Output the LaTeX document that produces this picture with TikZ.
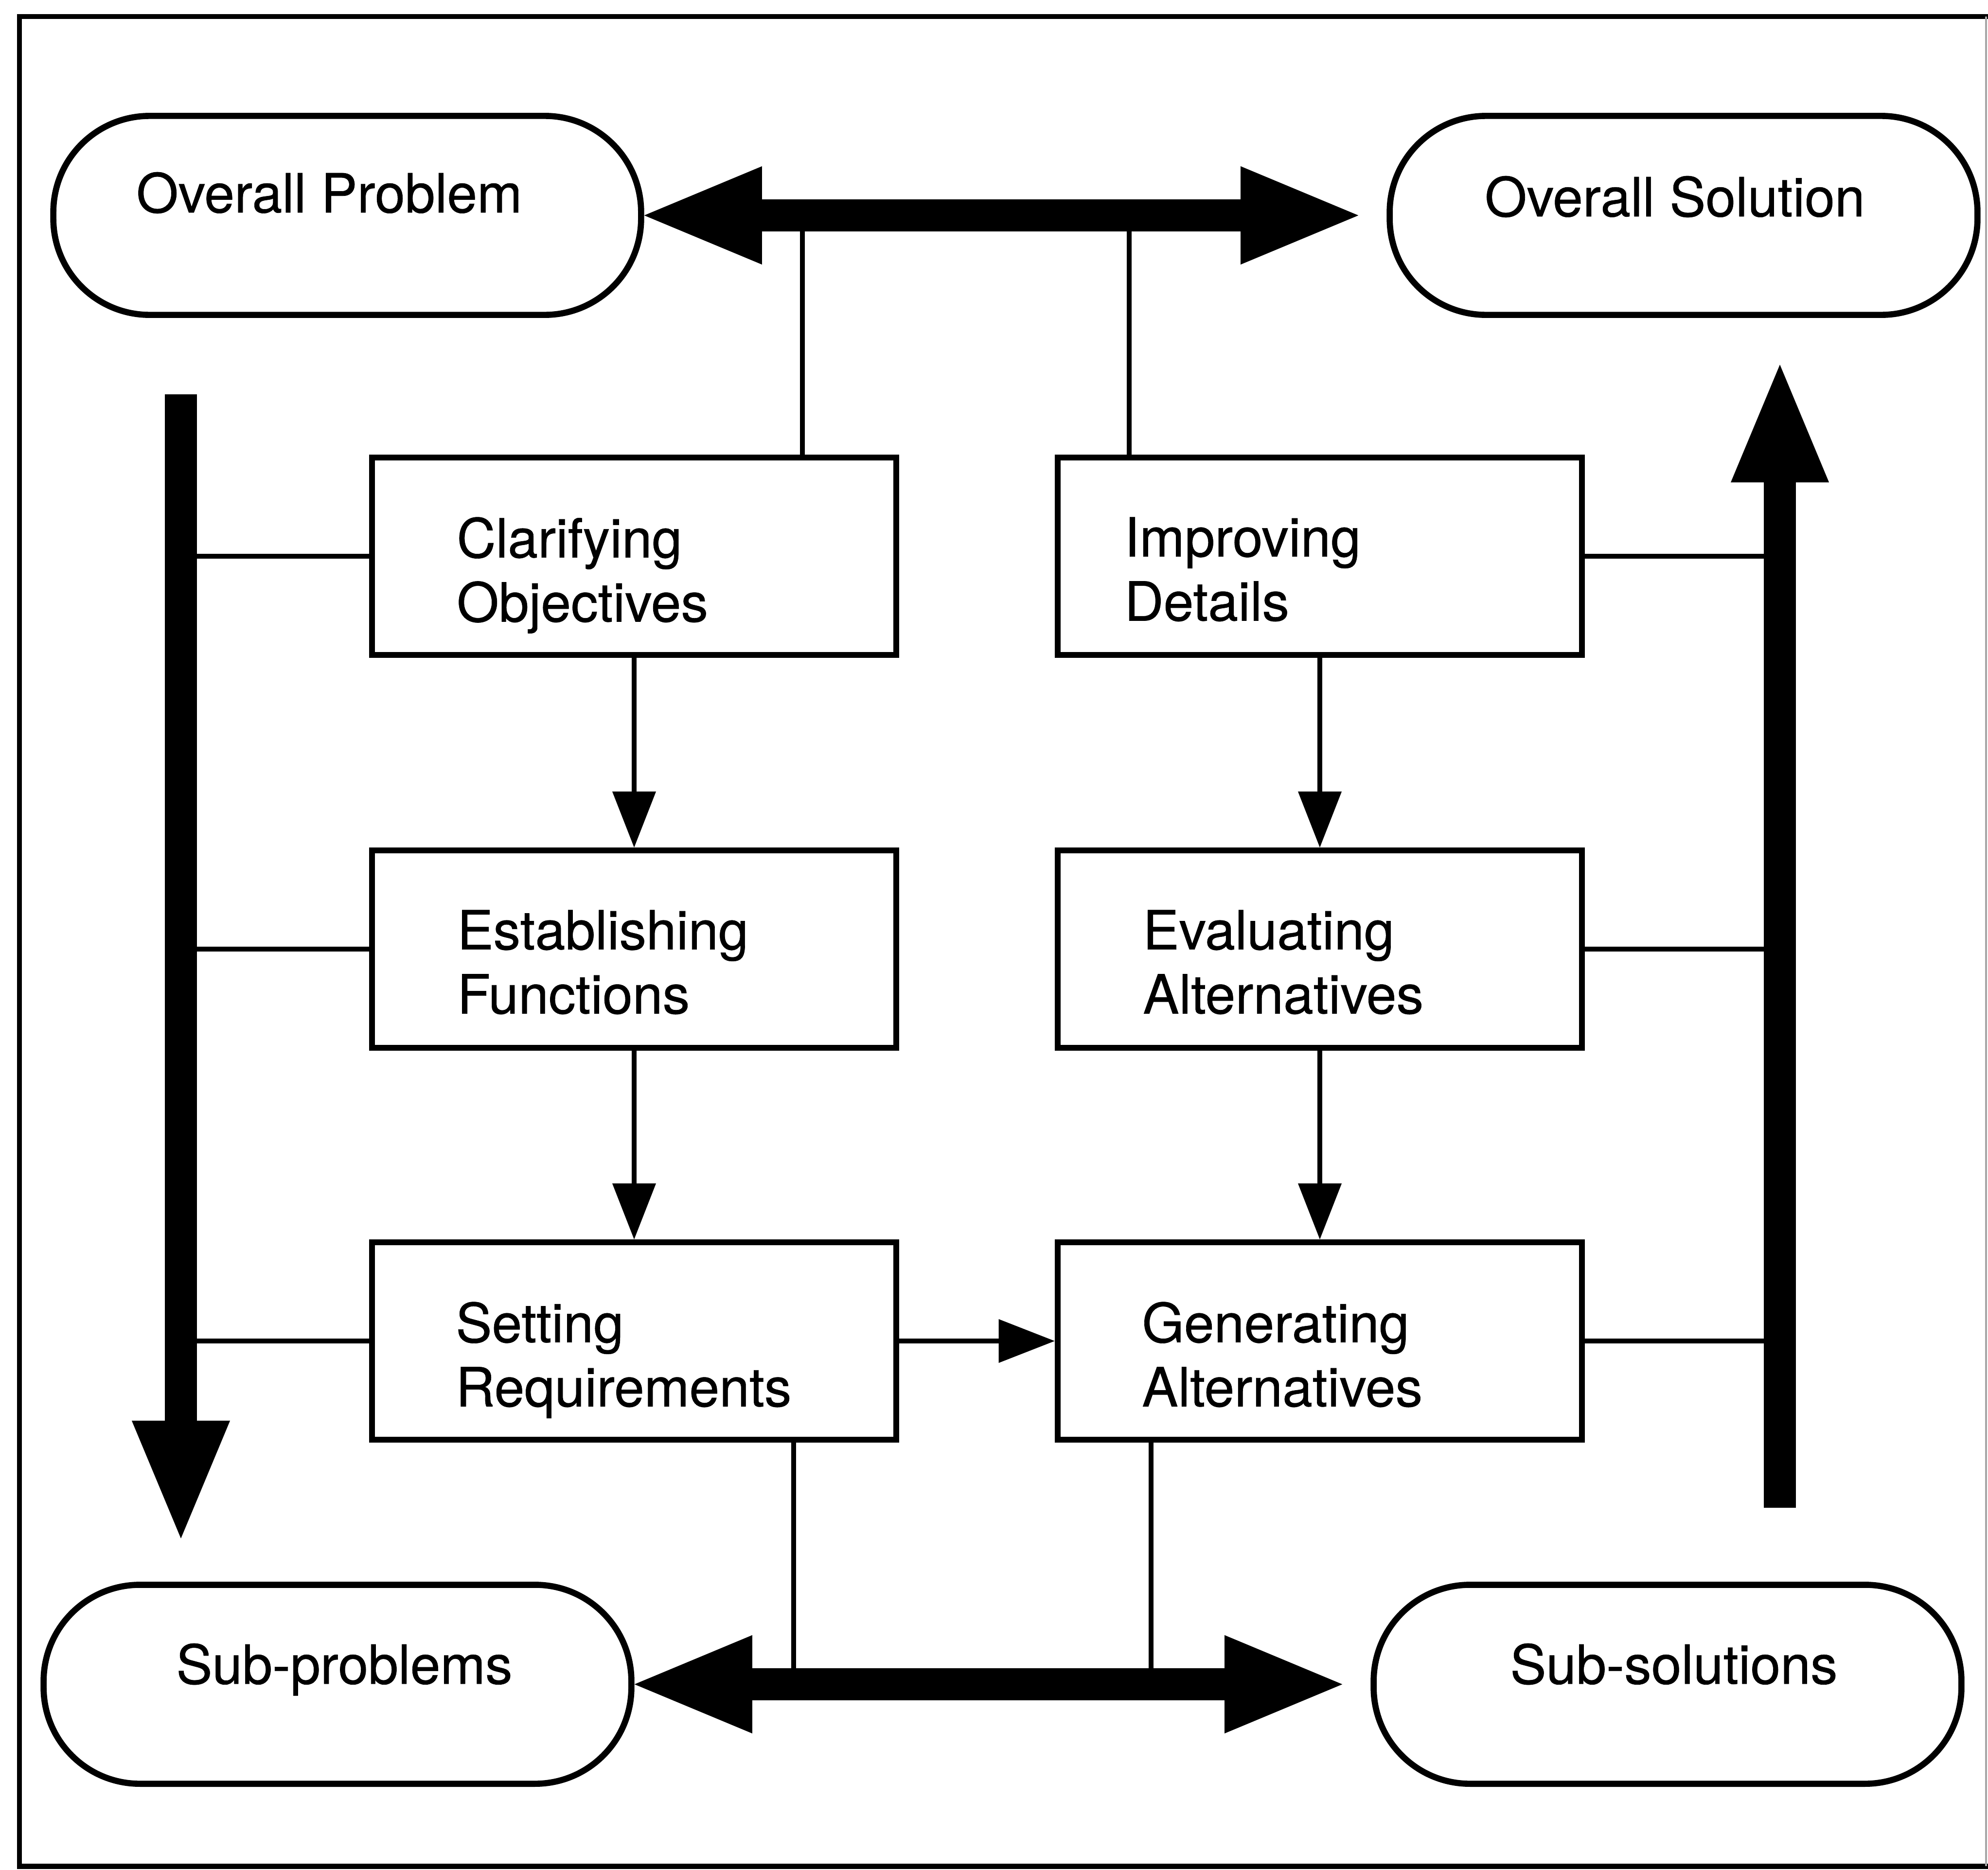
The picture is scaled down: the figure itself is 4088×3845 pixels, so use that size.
\documentclass[tikz,border=0pt]{standalone}
\usepackage{fontspec}
\setmainfont{TeX Gyre Heros}
\newfontfamily\labfont[FakeBold=0.6]{TeX Gyre Heros}
\usetikzlibrary{arrows.meta,calc}
\begin{document}
\begin{tikzpicture}[x=0.01cm,y=-0.01cm,
  frameline/.style={line width=3.1pt},
  stagebox/.style={draw, line width=3.4pt, minimum width=10.78cm, minimum height=4.06cm, inner sep=0pt},
  pill/.style={draw, line width=3.6pt, rounded corners=1.98cm, minimum width=12.08cm, minimum height=4.09cm, inner sep=0pt},
  lab/.style={inner sep=0pt, align=left, font=\labfont\fontsize{31.6pt}{37.5pt}\selectfont},
  link/.style={line width=2.6pt},
  flow/.style={link, -{Triangle[length=1.15cm, width=0.9cm, line width=0pt]}},
  bigflow/.style={line width=0.66cm, -{Triangle[length=2.42cm, width=2.02cm, line width=0pt]}},
  bigboth/.style={line width=0.66cm, {Triangle[length=2.42cm, width=2.02cm, line width=0pt]}-{Triangle[length=2.42cm, width=2.02cm, line width=0pt]}},
]
% page and frame
\useasboundingbox (0,0) rectangle (4088,3845);
\fill[white] (0,0) rectangle (4088,3845);
\draw[frameline] (4088,34) -- (40,34) -- (40,3838) -- (4088,3838);
\draw[line width=1.2pt, black!35] (4084,34) -- (4084,3838);

% problem / solution terminals
\node[pill] (op) at (714,443) {};
\node[pill] (os) at (3462,443) {};
\node[pill] (sp) at (694,3464) {};
\node[pill] (ss) at (3429,3464) {};
\node[lab, anchor=base] (opt) at (677,437) {Overall Problem};
\node[lab, anchor=base] (ost) at (3444,445) {Overall Solution};
\node[lab, anchor=base] (spt) at (708,3463) {Sub-problems};
\node[lab, anchor=base] (sst) at (3442,3463) {Sub-solutions};

% design stages
\node[stagebox] (co) at (1304,1144) {};
\node[stagebox] (id) at (2714,1144) {};
\node[stagebox] (ef) at (1304,1952) {};
\node[stagebox] (ea) at (2714,1952) {};
\node[stagebox] (sr) at (1304,2758) {};
\node[stagebox] (ga) at (2714,2758) {};
\node[lab, anchor=north west] (cot) at ($(co.north west)+(180,128)$) {Clarifying\\Objectives};
\node[lab, anchor=north west] (idt) at ($(id.north west)+(143,128)$) {Improving\\Details};
\node[lab, anchor=north west] (eft) at ($(ef.north west)+(181,128)$) {Establishing\\Functions};
\node[lab, anchor=north west] (eat) at ($(ea.north west)+(181,128)$) {Evaluating\\Alternatives};
\node[lab, anchor=north west] (srt) at ($(sr.north west)+(178,128)$) {Setting\\Requirements};
\node[lab, anchor=north west] (gat) at ($(ga.north west)+(179,128)$) {Generating\\Alternatives};

% junction points on the thick arrows
\coordinate (ltop) at (372,811);
\coordinate (lbot) at (372,3164);
\coordinate (rbot) at (3660,3101);
\coordinate (rtop) at (3660,750);
\coordinate (tj1) at (1650,443);
\coordinate (tj2) at (2322,443);
\coordinate (bj1) at (1632,3466);
\coordinate (bj2) at (2367,3466);

% thin links
\foreach \b in {co,ef,sr} \draw[link] (\b.west) -- (\b.west -| ltop);
\foreach \b in {id,ea,ga} \draw[link] (\b.east) -- (\b.east -| rtop);
\draw[link] (tj1) -- (tj1 |- co.north);
\draw[link] (tj2) -- (tj2 |- id.north);
\draw[link] (bj1) -- (bj1 |- sr.south);
\draw[link] (bj2) -- (bj2 |- ga.south);

% stage sequence
\draw[flow] (co.south) -- (ef.north);
\draw[flow] (ef.south) -- (sr.north);
\draw[flow] (id.south) -- (ea.north);
\draw[flow] (ea.south) -- (ga.north);
\draw[flow] (sr.east) -- (ga.west);

% thick arrows
\draw[bigflow] (ltop) -- (lbot);
\draw[bigflow] (rbot) -- (rtop);
\draw[bigboth, shorten >=0.58cm] (op.east) -- (os.west);
\draw[bigboth, shorten >=0.58cm] (sp.east) -- (ss.west);
\end{tikzpicture}
\end{document}
